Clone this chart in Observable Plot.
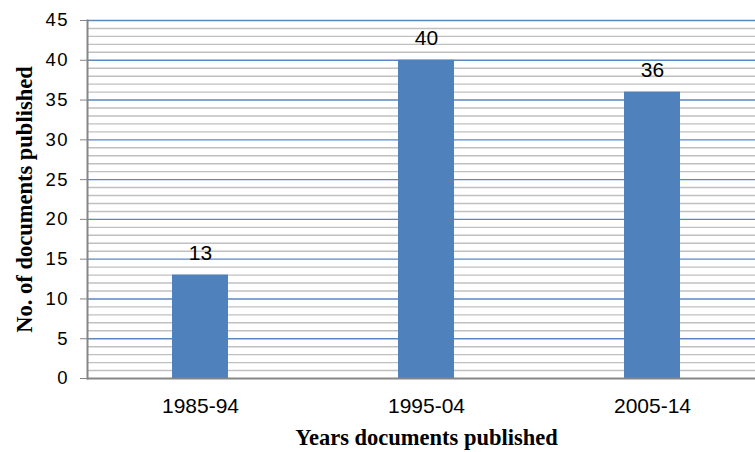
<!DOCTYPE html>
<html>
<head>
<meta charset="utf-8">
<script src="https://cdn.jsdelivr.net/npm/d3@7"></script>
<script src="https://cdn.jsdelivr.net/npm/@observablehq/plot@0.6"></script>
<style>
  html, body { margin: 0; padding: 0; background: #fff; overflow: hidden; }
  #chart svg g[aria-label="y-axis tick label"] text { letter-spacing: 1.5px; }
</style>
</head>
<body>
<div id="chart"></div>
<script>
const periods = ["1985-94", "1995-04", "2005-14"];
const documents = [13, 40, 36];
const majorTicks = [0, 5, 10, 15, 20, 25, 30, 35, 40, 45];
const minorTicks = d3.range(1, 45).filter(v => v % 5 !== 0);
const yTitle = "No. of documents published";
const xTitle = "Years documents published";

const data = periods.map((p, i) => ({period: p, count: documents[i]}));

const serif = "'Liberation Serif', 'Times New Roman', serif";

const chart = Plot.plot({
  width: 755,
  height: 452,
  marginLeft: 87,
  marginRight: 0,
  marginTop: 20,
  marginBottom: 74,
  style: {fontFamily: "'Liberation Sans', Arial, sans-serif", fontSize: "17px", color: "#000", background: "#fff"},
  x: {domain: periods, range: [87, 765], paddingInner: 0.752, paddingOuter: 0.376, label: null},
  y: {domain: [0, 45], label: null},
  marks: [
    Plot.ruleY(minorTicks, {stroke: "#c0c0c0", strokeWidth: 1.4}),
    Plot.ruleY(majorTicks.filter(v => v > 0), {stroke: "#5b87c3", strokeWidth: 1.4}),
    Plot.barY(data, {x: "period", y: "count", fill: "#4f81bd"}),
    Plot.text(data, {x: "period", y: "count", text: d => String(d.count), dy: -22, fontSize: 21, fill: "#000"}),
    Plot.ruleY([0], {stroke: "#868686", strokeWidth: 2}),
    Plot.frame({anchor: "left", stroke: "#868686", strokeWidth: 2}),
    Plot.axisY({ticks: majorTicks, tickSize: 7, tickPadding: 11.5, stroke: "#868686", fill: "#000", fontSize: 18.5, label: null}),
    Plot.axisX({tickSize: 0, tickPadding: 20, fill: "#000", fontSize: 21, label: null}),
    Plot.text([yTitle], {frameAnchor: "left", textAnchor: "middle", dx: -63, rotate: -90, fontSize: 22.5, fontWeight: "bold", fontFamily: serif, fill: "#000"}),
    Plot.text([xTitle], {frameAnchor: "bottom", textAnchor: "middle", dx: 5, dy: 66, fontSize: 22.5, fontWeight: "bold", fontFamily: serif, fill: "#000"})
  ]
});

document.getElementById("chart").appendChild(chart);
</script>
</body>
</html>
